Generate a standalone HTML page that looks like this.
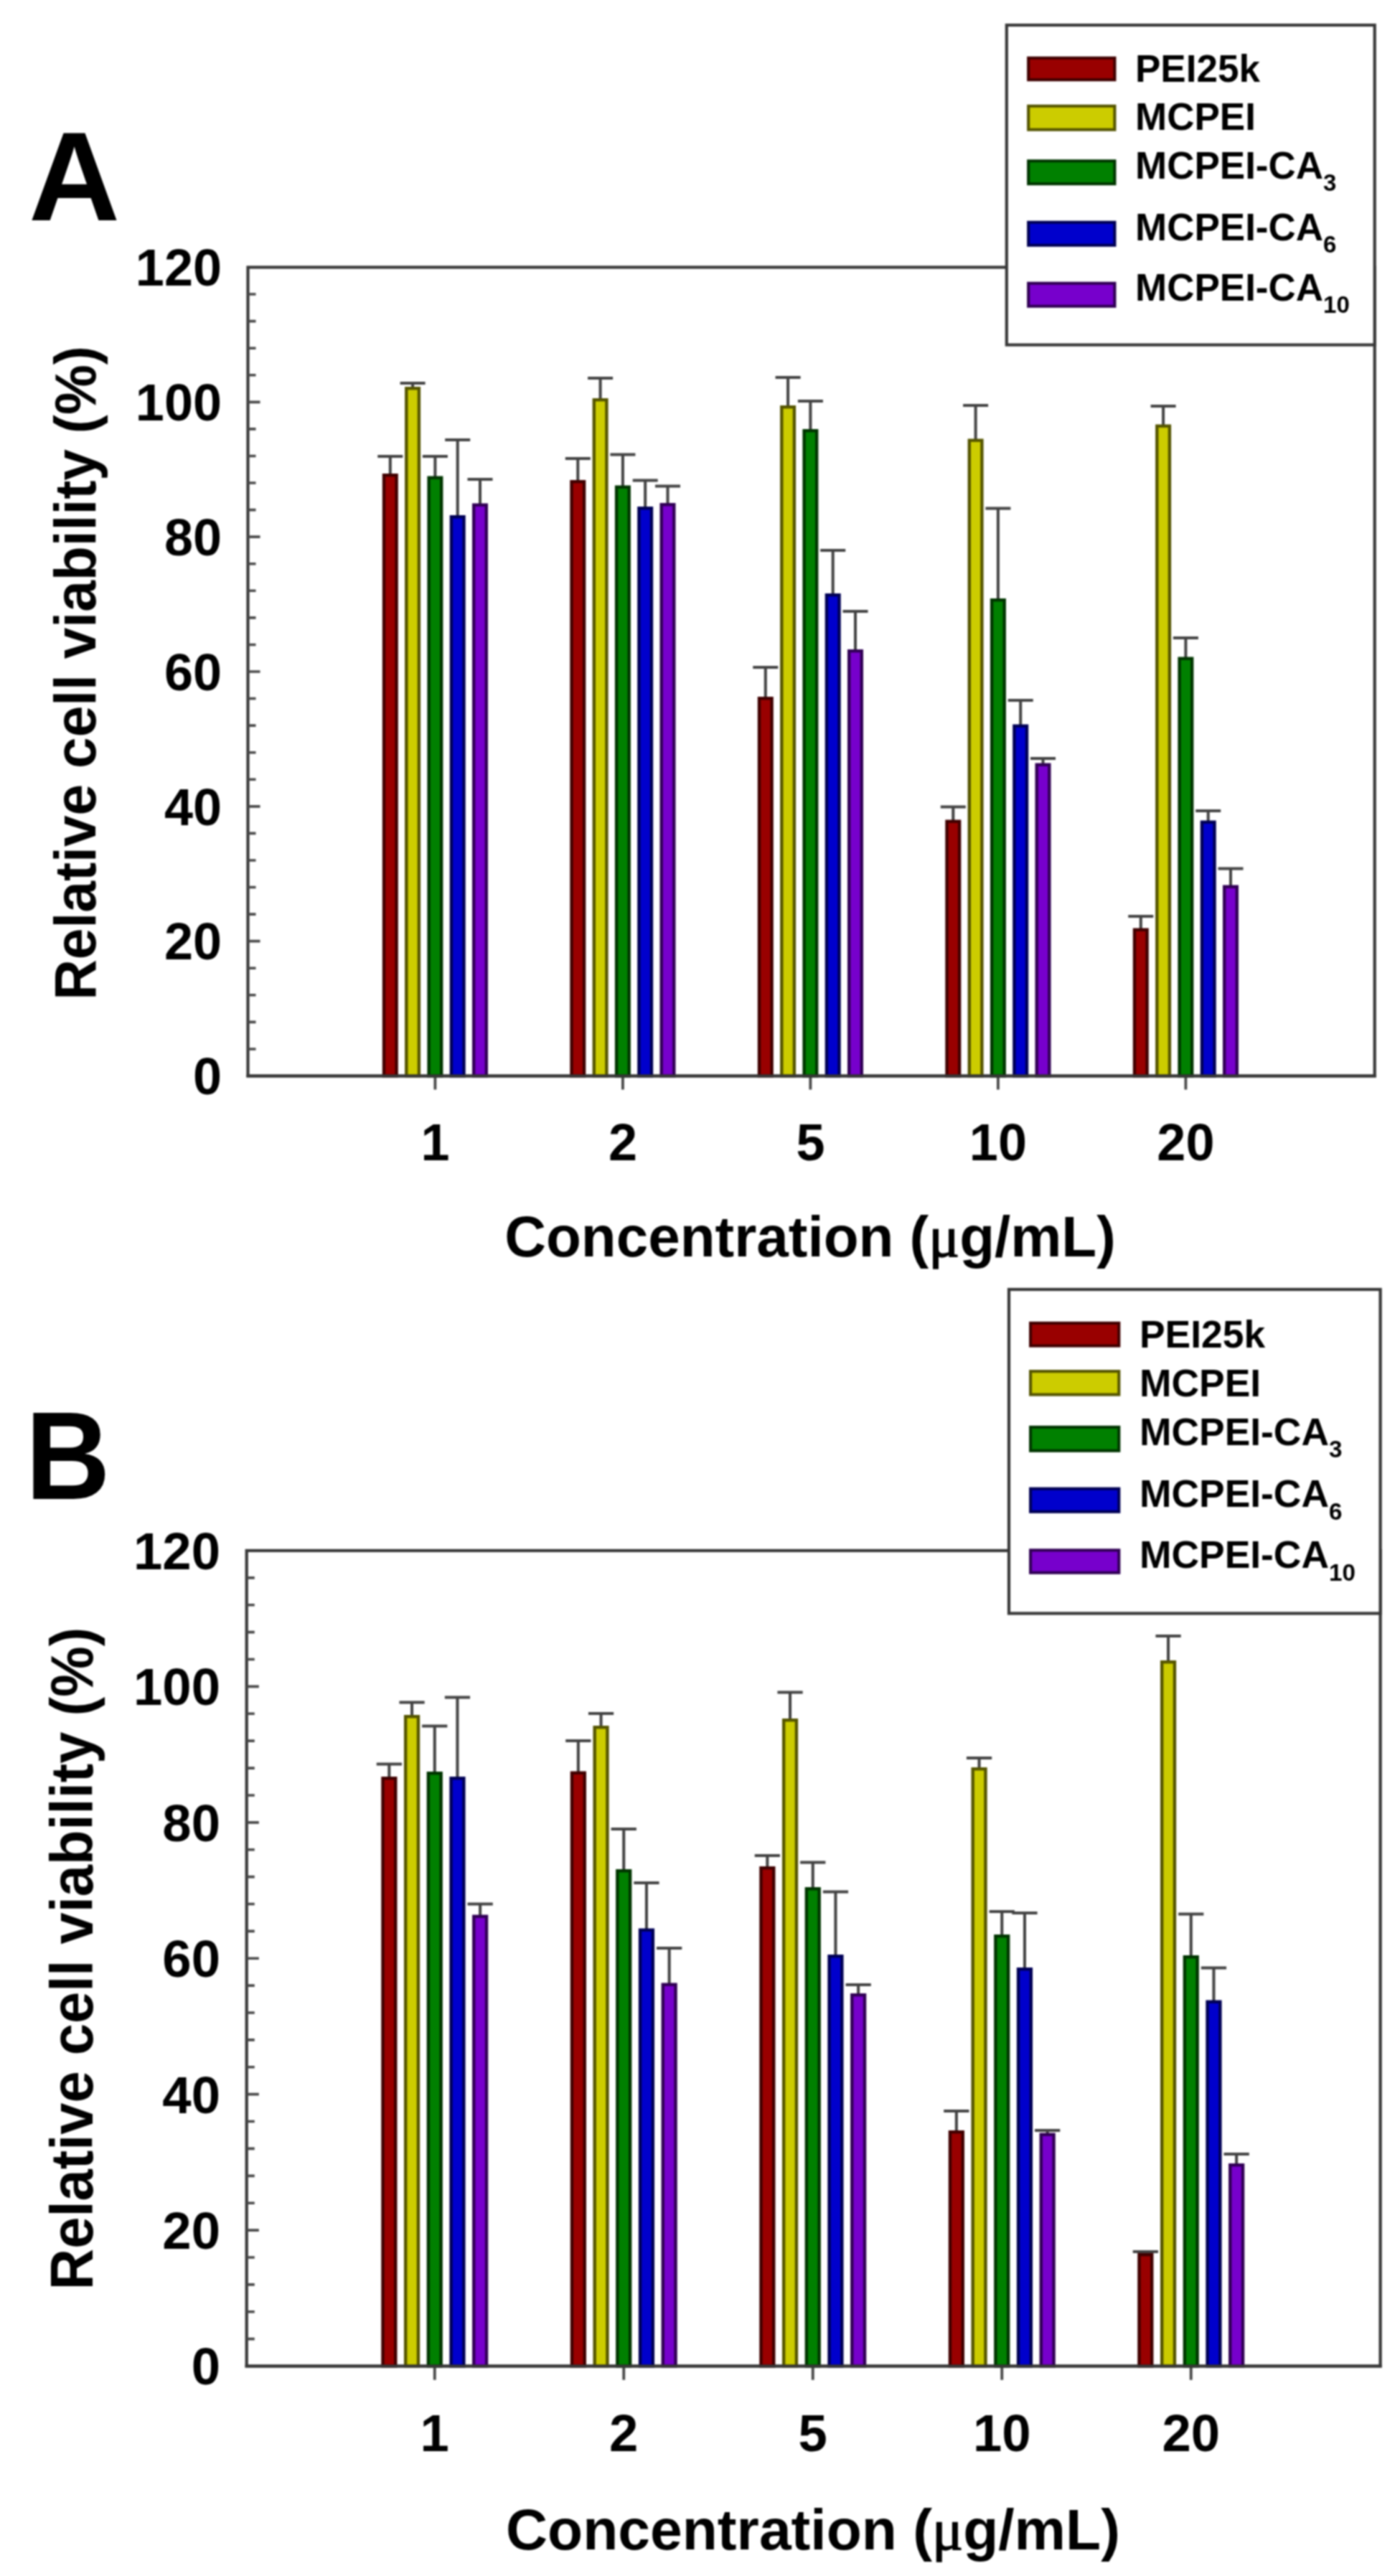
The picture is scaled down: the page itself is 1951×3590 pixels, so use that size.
<!DOCTYPE html>
<html lang="en">
<head>
<meta charset="utf-8">
<title>Relative cell viability</title>
<style>
html,body{margin:0;padding:0;background:#fff;}
body{width:1951px;height:3590px;overflow:hidden;}
svg{display:block;filter:blur(0.9px);}
svg text{font-family:'Liberation Sans', Arial, Helvetica, sans-serif;font-weight:bold;fill:#000;}
</style>
</head>
<body>
<svg width="1951" height="3590" viewBox="0 0 1951 3590">
<rect width="1951" height="3590" fill="#fff"/>
<g>
<rect x="345.5" y="372.5" width="1570.2" height="1127" fill="#fff" stroke="#383838" stroke-width="4.2"/>
<path d="M345.5 1461.93h11M345.5 1424.37h11M345.5 1386.8h11M345.5 1349.23h11M345.5 1311.67h17M345.5 1274.1h11M345.5 1236.53h11M345.5 1198.97h11M345.5 1161.4h11M345.5 1123.83h17M345.5 1086.27h11M345.5 1048.7h11M345.5 1011.13h11M345.5 973.57h11M345.5 936h17M345.5 898.43h11M345.5 860.87h11M345.5 823.3h11M345.5 785.73h11M345.5 748.17h17M345.5 710.6h11M345.5 673.03h11M345.5 635.47h11M345.5 597.9h11M345.5 560.33h17M345.5 522.77h11M345.5 485.2h11M345.5 447.63h11M345.5 410.07h11" stroke="#484848" stroke-width="3.6" fill="none"/>
<path d="M606.4 1499.5v19M867.9 1499.5v19M1129.4 1499.5v19M1390.9 1499.5v19M1652.4 1499.5v19" stroke="#484848" stroke-width="3.8" fill="none"/>
<path d="M543.8 662V636M526.3 636h35" stroke="#424242" stroke-width="4" fill="none"/>
<rect x="535" y="662.2" width="17.6" height="837.3" fill="#990000" stroke="#400000" stroke-width="4.4"/>
<path d="M575.1 541V534M557.6 534h35" stroke="#424242" stroke-width="4" fill="none"/>
<rect x="566.3" y="541.2" width="17.6" height="958.3" fill="#cccc00" stroke="#555500" stroke-width="4.4"/>
<path d="M606.4 665.5V636M588.9 636h35" stroke="#424242" stroke-width="4" fill="none"/>
<rect x="597.6" y="665.7" width="17.6" height="833.8" fill="#008000" stroke="#003500" stroke-width="4.4"/>
<path d="M637.7 720V613M620.2 613h35" stroke="#424242" stroke-width="4" fill="none"/>
<rect x="628.9" y="720.2" width="17.6" height="779.3" fill="#0000cc" stroke="#000055" stroke-width="4.4"/>
<path d="M669 703.5V668M651.5 668h35" stroke="#424242" stroke-width="4" fill="none"/>
<rect x="660.2" y="703.7" width="17.6" height="795.8" fill="#7700cc" stroke="#310055" stroke-width="4.4"/>
<path d="M805.3 671V639M787.8 639h35" stroke="#424242" stroke-width="4" fill="none"/>
<rect x="796.5" y="671.2" width="17.6" height="828.3" fill="#990000" stroke="#400000" stroke-width="4.4"/>
<path d="M836.6 557V527M819.1 527h35" stroke="#424242" stroke-width="4" fill="none"/>
<rect x="827.8" y="557.2" width="17.6" height="942.3" fill="#cccc00" stroke="#555500" stroke-width="4.4"/>
<path d="M867.9 678.5V633.5M850.4 633.5h35" stroke="#424242" stroke-width="4" fill="none"/>
<rect x="859.1" y="678.7" width="17.6" height="820.8" fill="#008000" stroke="#003500" stroke-width="4.4"/>
<path d="M899.2 708V669.5M881.7 669.5h35" stroke="#424242" stroke-width="4" fill="none"/>
<rect x="890.4" y="708.2" width="17.6" height="791.3" fill="#0000cc" stroke="#000055" stroke-width="4.4"/>
<path d="M930.5 703V677.5M913 677.5h35" stroke="#424242" stroke-width="4" fill="none"/>
<rect x="921.7" y="703.2" width="17.6" height="796.3" fill="#7700cc" stroke="#310055" stroke-width="4.4"/>
<path d="M1066.8 973V930M1049.3 930h35" stroke="#424242" stroke-width="4" fill="none"/>
<rect x="1058" y="973.2" width="17.6" height="526.3" fill="#990000" stroke="#400000" stroke-width="4.4"/>
<path d="M1098.1 567V526M1080.6 526h35" stroke="#424242" stroke-width="4" fill="none"/>
<rect x="1089.3" y="567.2" width="17.6" height="932.3" fill="#cccc00" stroke="#555500" stroke-width="4.4"/>
<path d="M1129.4 600V559M1111.9 559h35" stroke="#424242" stroke-width="4" fill="none"/>
<rect x="1120.6" y="600.2" width="17.6" height="899.3" fill="#008000" stroke="#003500" stroke-width="4.4"/>
<path d="M1160.7 829V767M1143.2 767h35" stroke="#424242" stroke-width="4" fill="none"/>
<rect x="1151.9" y="829.2" width="17.6" height="670.3" fill="#0000cc" stroke="#000055" stroke-width="4.4"/>
<path d="M1192 907V852M1174.5 852h35" stroke="#424242" stroke-width="4" fill="none"/>
<rect x="1183.2" y="907.2" width="17.6" height="592.3" fill="#7700cc" stroke="#310055" stroke-width="4.4"/>
<path d="M1328.3 1144.5V1124.5M1310.8 1124.5h35" stroke="#424242" stroke-width="4" fill="none"/>
<rect x="1319.5" y="1144.7" width="17.6" height="354.8" fill="#990000" stroke="#400000" stroke-width="4.4"/>
<path d="M1359.6 613.5V565M1342.1 565h35" stroke="#424242" stroke-width="4" fill="none"/>
<rect x="1350.8" y="613.7" width="17.6" height="885.8" fill="#cccc00" stroke="#555500" stroke-width="4.4"/>
<path d="M1390.9 836V708.5M1373.4 708.5h35" stroke="#424242" stroke-width="4" fill="none"/>
<rect x="1382.1" y="836.2" width="17.6" height="663.3" fill="#008000" stroke="#003500" stroke-width="4.4"/>
<path d="M1422.2 1011.5V976M1404.7 976h35" stroke="#424242" stroke-width="4" fill="none"/>
<rect x="1413.4" y="1011.7" width="17.6" height="487.8" fill="#0000cc" stroke="#000055" stroke-width="4.4"/>
<path d="M1453.5 1065.5V1057M1436 1057h35" stroke="#424242" stroke-width="4" fill="none"/>
<rect x="1444.7" y="1065.7" width="17.6" height="433.8" fill="#7700cc" stroke="#310055" stroke-width="4.4"/>
<path d="M1589.8 1295.5V1277M1572.3 1277h35" stroke="#424242" stroke-width="4" fill="none"/>
<rect x="1581" y="1295.7" width="17.6" height="203.8" fill="#990000" stroke="#400000" stroke-width="4.4"/>
<path d="M1621.1 593.5V566M1603.6 566h35" stroke="#424242" stroke-width="4" fill="none"/>
<rect x="1612.3" y="593.7" width="17.6" height="905.8" fill="#cccc00" stroke="#555500" stroke-width="4.4"/>
<path d="M1652.4 917.5V889M1634.9 889h35" stroke="#424242" stroke-width="4" fill="none"/>
<rect x="1643.6" y="917.7" width="17.6" height="581.8" fill="#008000" stroke="#003500" stroke-width="4.4"/>
<path d="M1683.7 1145.5V1130M1666.2 1130h35" stroke="#424242" stroke-width="4" fill="none"/>
<rect x="1674.9" y="1145.7" width="17.6" height="353.8" fill="#0000cc" stroke="#000055" stroke-width="4.4"/>
<path d="M1715 1235.5V1210.5M1697.5 1210.5h35" stroke="#424242" stroke-width="4" fill="none"/>
<rect x="1706.2" y="1235.7" width="17.6" height="263.8" fill="#7700cc" stroke="#310055" stroke-width="4.4"/>
<path d="M343.4 1499.5H1917.8" stroke="#383838" stroke-width="4.2"/>
<text x="309" y="1525.28" font-size="72" text-anchor="end">0</text>
<text x="309" y="1337.44" font-size="72" text-anchor="end">20</text>
<text x="309" y="1149.61" font-size="72" text-anchor="end">40</text>
<text x="309" y="961.78" font-size="72" text-anchor="end">60</text>
<text x="309" y="773.94" font-size="72" text-anchor="end">80</text>
<text x="309" y="586.11" font-size="72" text-anchor="end">100</text>
<text x="309" y="398.28" font-size="72" text-anchor="end">120</text>
<text x="606.4" y="1617" font-size="72" text-anchor="middle">1</text>
<text x="867.9" y="1617" font-size="72" text-anchor="middle">2</text>
<text x="1129.4" y="1617" font-size="72" text-anchor="middle">5</text>
<text x="1390.9" y="1617" font-size="72" text-anchor="middle">10</text>
<text x="1652.4" y="1617" font-size="72" text-anchor="middle">20</text>
<text x="1129" y="1751" font-size="80" text-anchor="middle">Concentration (<tspan font-weight="normal" stroke="#000" stroke-width="1.5" font-family="'Liberation Serif', 'DejaVu Serif', serif">μ</tspan>g/mL)</text>
<text transform="translate(132.6 938) rotate(-90) scale(0.9524 1)" font-size="82.42" text-anchor="middle">Relative cell viability (%)</text>
<text transform="translate(40 307) scale(1 1)" font-size="176">A</text>
<rect x="1402.8" y="35" width="512.9" height="445.6" fill="#fff" stroke="#383838" stroke-width="4.2"/>
<rect x="1433.2" y="80.8" width="120.2" height="30.4" fill="#990000" stroke="#400000" stroke-width="4.1"/>
<text x="1582" y="114" font-size="53">PEI25k</text>
<rect x="1433.2" y="147.8" width="120.2" height="32.9" fill="#cccc00" stroke="#555500" stroke-width="4.1"/>
<text x="1582" y="181" font-size="53">MCPEI</text>
<rect x="1433.2" y="224.3" width="120.2" height="31.9" fill="#008000" stroke="#003500" stroke-width="4.1"/>
<text x="1582" y="248.5" font-size="53">MCPEI-CA<tspan dy="17.5" font-size="33">3</tspan></text>
<rect x="1433.2" y="309.8" width="120.2" height="32" fill="#0000cc" stroke="#000055" stroke-width="4.1"/>
<text x="1582" y="334.5" font-size="53">MCPEI-CA<tspan dy="17.5" font-size="33">6</tspan></text>
<rect x="1433.2" y="394.8" width="120.2" height="32" fill="#7700cc" stroke="#310055" stroke-width="4.1"/>
<text x="1582" y="418.5" font-size="53">MCPEI-CA<tspan dy="17.5" font-size="33">10</tspan></text>
</g>
<g>
<rect x="343.7" y="2161" width="1579.9" height="1136.5" fill="#fff" stroke="#383838" stroke-width="4.23"/>
<path d="M343.7 3259.62h11.08M343.7 3221.73h11.08M343.7 3183.85h11.08M343.7 3145.97h11.08M343.7 3108.08h17.12M343.7 3070.2h11.08M343.7 3032.32h11.08M343.7 2994.43h11.08M343.7 2956.55h11.08M343.7 2918.67h17.12M343.7 2880.78h11.08M343.7 2842.9h11.08M343.7 2805.02h11.08M343.7 2767.13h11.08M343.7 2729.25h17.12M343.7 2691.37h11.08M343.7 2653.48h11.08M343.7 2615.6h11.08M343.7 2577.72h11.08M343.7 2539.83h17.12M343.7 2501.95h11.08M343.7 2464.07h11.08M343.7 2426.18h11.08M343.7 2388.3h11.08M343.7 2350.42h17.12M343.7 2312.53h11.08M343.7 2274.65h11.08M343.7 2236.77h11.08M343.7 2198.88h11.08" stroke="#484848" stroke-width="3.63" fill="none"/>
<path d="M605.75 3297.5v19.13M869.25 3297.5v19.13M1132.75 3297.5v19.13M1396.25 3297.5v19.13M1659.75 3297.5v19.13" stroke="#484848" stroke-width="3.83" fill="none"/>
<path d="M542.35 2478V2458.5M524.73 2458.5h35.24" stroke="#424242" stroke-width="4.03" fill="none"/>
<rect x="533.47" y="2478.22" width="17.77" height="819.28" fill="#990000" stroke="#400000" stroke-width="4.43"/>
<path d="M574.05 2392V2372.5M556.43 2372.5h35.24" stroke="#424242" stroke-width="4.03" fill="none"/>
<rect x="565.17" y="2392.22" width="17.77" height="905.28" fill="#cccc00" stroke="#555500" stroke-width="4.43"/>
<path d="M605.75 2471V2405.5M588.13 2405.5h35.24" stroke="#424242" stroke-width="4.03" fill="none"/>
<rect x="596.87" y="2471.22" width="17.77" height="826.28" fill="#008000" stroke="#003500" stroke-width="4.43"/>
<path d="M637.45 2478V2365.5M619.83 2365.5h35.24" stroke="#424242" stroke-width="4.03" fill="none"/>
<rect x="628.57" y="2478.22" width="17.77" height="819.28" fill="#0000cc" stroke="#000055" stroke-width="4.43"/>
<path d="M669.15 2670.5V2653.5M651.53 2653.5h35.24" stroke="#424242" stroke-width="4.03" fill="none"/>
<rect x="660.27" y="2670.72" width="17.77" height="626.78" fill="#7700cc" stroke="#310055" stroke-width="4.43"/>
<path d="M805.85 2470.5V2426M788.23 2426h35.24" stroke="#424242" stroke-width="4.03" fill="none"/>
<rect x="796.97" y="2470.72" width="17.77" height="826.78" fill="#990000" stroke="#400000" stroke-width="4.43"/>
<path d="M837.55 2407V2388M819.93 2388h35.24" stroke="#424242" stroke-width="4.03" fill="none"/>
<rect x="828.67" y="2407.22" width="17.77" height="890.28" fill="#cccc00" stroke="#555500" stroke-width="4.43"/>
<path d="M869.25 2607V2549M851.63 2549h35.24" stroke="#424242" stroke-width="4.03" fill="none"/>
<rect x="860.37" y="2607.22" width="17.77" height="690.28" fill="#008000" stroke="#003500" stroke-width="4.43"/>
<path d="M900.95 2689.5V2624M883.33 2624h35.24" stroke="#424242" stroke-width="4.03" fill="none"/>
<rect x="892.07" y="2689.72" width="17.77" height="607.78" fill="#0000cc" stroke="#000055" stroke-width="4.43"/>
<path d="M932.65 2765.5V2715M915.03 2715h35.24" stroke="#424242" stroke-width="4.03" fill="none"/>
<rect x="923.77" y="2765.72" width="17.77" height="531.78" fill="#7700cc" stroke="#310055" stroke-width="4.43"/>
<path d="M1069.35 2603V2586M1051.73 2586h35.24" stroke="#424242" stroke-width="4.03" fill="none"/>
<rect x="1060.47" y="2603.22" width="17.77" height="694.28" fill="#990000" stroke="#400000" stroke-width="4.43"/>
<path d="M1101.05 2397V2358.5M1083.43 2358.5h35.24" stroke="#424242" stroke-width="4.03" fill="none"/>
<rect x="1092.17" y="2397.22" width="17.77" height="900.28" fill="#cccc00" stroke="#555500" stroke-width="4.43"/>
<path d="M1132.75 2632V2595.5M1115.13 2595.5h35.24" stroke="#424242" stroke-width="4.03" fill="none"/>
<rect x="1123.87" y="2632.22" width="17.77" height="665.28" fill="#008000" stroke="#003500" stroke-width="4.43"/>
<path d="M1164.45 2726V2636.5M1146.83 2636.5h35.24" stroke="#424242" stroke-width="4.03" fill="none"/>
<rect x="1155.57" y="2726.22" width="17.77" height="571.28" fill="#0000cc" stroke="#000055" stroke-width="4.43"/>
<path d="M1196.15 2780V2766M1178.53 2766h35.24" stroke="#424242" stroke-width="4.03" fill="none"/>
<rect x="1187.27" y="2780.22" width="17.77" height="517.28" fill="#7700cc" stroke="#310055" stroke-width="4.43"/>
<path d="M1332.85 2971V2942M1315.23 2942h35.24" stroke="#424242" stroke-width="4.03" fill="none"/>
<rect x="1323.97" y="2971.22" width="17.77" height="326.28" fill="#990000" stroke="#400000" stroke-width="4.43"/>
<path d="M1364.55 2465V2450M1346.93 2450h35.24" stroke="#424242" stroke-width="4.03" fill="none"/>
<rect x="1355.67" y="2465.22" width="17.77" height="832.28" fill="#cccc00" stroke="#555500" stroke-width="4.43"/>
<path d="M1396.25 2698V2664M1378.63 2664h35.24" stroke="#424242" stroke-width="4.03" fill="none"/>
<rect x="1387.37" y="2698.22" width="17.77" height="599.28" fill="#008000" stroke="#003500" stroke-width="4.43"/>
<path d="M1427.95 2744V2666M1410.33 2666h35.24" stroke="#424242" stroke-width="4.03" fill="none"/>
<rect x="1419.07" y="2744.22" width="17.77" height="553.28" fill="#0000cc" stroke="#000055" stroke-width="4.43"/>
<path d="M1459.65 2974.5V2969M1442.03 2969h35.24" stroke="#424242" stroke-width="4.03" fill="none"/>
<rect x="1450.77" y="2974.72" width="17.77" height="322.78" fill="#7700cc" stroke="#310055" stroke-width="4.43"/>
<path d="M1596.35 3142V3138M1578.73 3138h35.24" stroke="#424242" stroke-width="4.03" fill="none"/>
<rect x="1587.47" y="3142.22" width="17.77" height="155.28" fill="#990000" stroke="#400000" stroke-width="4.43"/>
<path d="M1628.05 2316V2280M1610.43 2280h35.24" stroke="#424242" stroke-width="4.03" fill="none"/>
<rect x="1619.17" y="2316.22" width="17.77" height="981.28" fill="#cccc00" stroke="#555500" stroke-width="4.43"/>
<path d="M1659.75 2727V2667.5M1642.13 2667.5h35.24" stroke="#424242" stroke-width="4.03" fill="none"/>
<rect x="1650.87" y="2727.22" width="17.77" height="570.28" fill="#008000" stroke="#003500" stroke-width="4.43"/>
<path d="M1691.45 2789.5V2742.5M1673.83 2742.5h35.24" stroke="#424242" stroke-width="4.03" fill="none"/>
<rect x="1682.57" y="2789.72" width="17.77" height="507.78" fill="#0000cc" stroke="#000055" stroke-width="4.43"/>
<path d="M1723.15 3017V3002M1705.53 3002h35.24" stroke="#424242" stroke-width="4.03" fill="none"/>
<rect x="1714.27" y="3017.22" width="17.77" height="280.28" fill="#7700cc" stroke="#310055" stroke-width="4.43"/>
<path d="M341.59 3297.5H1925.71" stroke="#383838" stroke-width="4.23"/>
<text x="307" y="3323.45" font-size="72.5" text-anchor="end">0</text>
<text x="307" y="3134.04" font-size="72.5" text-anchor="end">20</text>
<text x="307" y="2944.62" font-size="72.5" text-anchor="end">40</text>
<text x="307" y="2755.2" font-size="72.5" text-anchor="end">60</text>
<text x="307" y="2565.79" font-size="72.5" text-anchor="end">80</text>
<text x="307" y="2376.37" font-size="72.5" text-anchor="end">100</text>
<text x="307" y="2186.95" font-size="72.5" text-anchor="end">120</text>
<text x="605.75" y="3416" font-size="72.5" text-anchor="middle">1</text>
<text x="869.25" y="3416" font-size="72.5" text-anchor="middle">2</text>
<text x="1132.75" y="3416" font-size="72.5" text-anchor="middle">5</text>
<text x="1396.25" y="3416" font-size="72.5" text-anchor="middle">10</text>
<text x="1659.75" y="3416" font-size="72.5" text-anchor="middle">20</text>
<text x="1133" y="3552.5" font-size="80.4" text-anchor="middle">Concentration (<tspan font-weight="normal" stroke="#000" stroke-width="1.5" font-family="'Liberation Serif', 'DejaVu Serif', serif">μ</tspan>g/mL)</text>
<text transform="translate(129.4 2729.5) rotate(-90) scale(0.9524 1)" font-size="83.48" text-anchor="middle">Relative cell viability (%)</text>
<text transform="translate(35.5 2089) scale(0.94 1)" font-size="174">B</text>
<rect x="1406" y="1797" width="517.6" height="451.5" fill="#fff" stroke="#383838" stroke-width="4.23"/>
<rect x="1436.11" y="1843.91" width="123.17" height="31.67" fill="#990000" stroke="#400000" stroke-width="4.13"/>
<text x="1588" y="1878" font-size="53.4">PEI25k</text>
<rect x="1436.11" y="1911.11" width="123.17" height="32.47" fill="#cccc00" stroke="#555500" stroke-width="4.13"/>
<text x="1588" y="1945.5" font-size="53.4">MCPEI</text>
<rect x="1436.11" y="1988.91" width="123.17" height="32.87" fill="#008000" stroke="#003500" stroke-width="4.13"/>
<text x="1588" y="2013.5" font-size="53.4">MCPEI-CA<tspan dy="17.6" font-size="33.2">3</tspan></text>
<rect x="1436.11" y="2074.71" width="123.17" height="32.07" fill="#0000cc" stroke="#000055" stroke-width="4.13"/>
<text x="1588" y="2100" font-size="53.4">MCPEI-CA<tspan dy="17.6" font-size="33.2">6</tspan></text>
<rect x="1436.11" y="2160.41" width="123.17" height="31.37" fill="#7700cc" stroke="#310055" stroke-width="4.13"/>
<text x="1588" y="2185" font-size="53.4">MCPEI-CA<tspan dy="17.6" font-size="33.2">10</tspan></text>
</g>
</svg>
</body>
</html>
